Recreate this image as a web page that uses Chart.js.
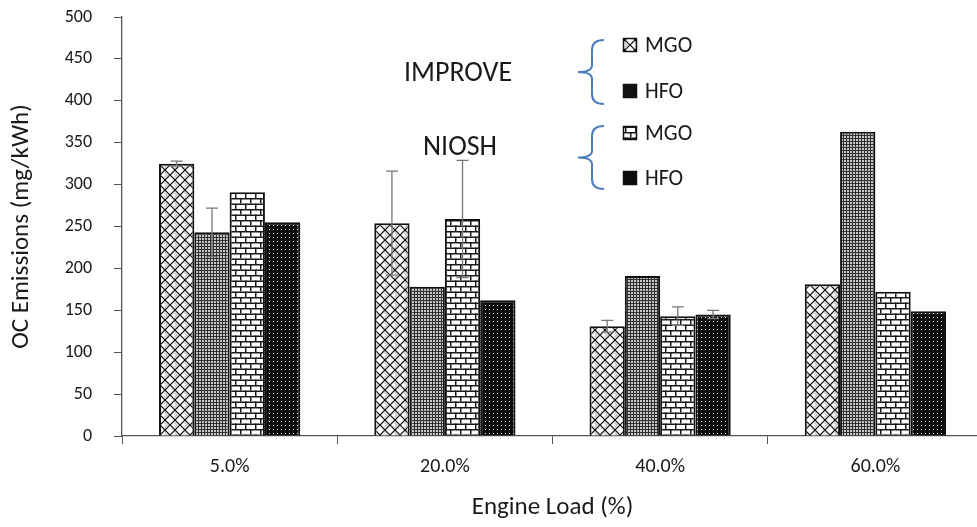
<!DOCTYPE html>
<html>
<head>
<meta charset="utf-8">
<script src="https://cdn.jsdelivr.net/npm/chart.js@4"></script>
<style>
  html, body { margin: 0; padding: 0; background: #fff; overflow: hidden; }
  #wrap { width: 990px; height: 527px; }
</style>
</head>
<body>
<div id="wrap"><canvas id="c" width="990" height="527"></canvas></div>
<script>
// Engine load categories
const categories = ['5.0%', '20.0%', '40.0%', '60.0%'];

// OC emissions (mg/kWh), IMPROVE method
const improveMGO = [325, 254, 131, 181];
const improveHFO = [243, 178, 191, 363];
// OC emissions (mg/kWh), NIOSH method
const nioshMGO = [291, 259, 143, 172];
const nioshHFO = [255, 162, 145, 149];

// Error bar half-widths (mg/kWh)
const improveMGOErr = [3, 62, 7, 0];
const improveHFOErr = [29, 0, 0, 0];
const nioshMGOErr = [0, 70, 11, 0];
const nioshHFOErr = [0, 0, 5, 0];

const yTicks = [0, 50, 100, 150, 200, 250, 300, 350, 400, 450, 500];

const FONT = "Carlito, Lato, 'Open Sans', sans-serif";

// ---- fill patterns ----
function makeTile(w, h, draw) {
  const cv = document.createElement('canvas');
  cv.width = w; cv.height = h;
  const g = cv.getContext('2d');
  draw(g, w, h);
  return document.getElementById('c').getContext('2d').createPattern(cv, 'repeat');
}

// woven diagonal lattice
const weave = makeTile(10, 10, (g) => {
  g.fillStyle = '#ffffff'; g.fillRect(0, 0, 10, 10);
  g.fillStyle = '#c4c4c4';
  g.beginPath(); g.moveTo(5, 2); g.lineTo(8, 5); g.lineTo(5, 8); g.lineTo(4, 7); g.lineTo(6, 5); g.lineTo(4, 3); g.closePath(); g.fill();
  g.strokeStyle = '#111'; g.lineWidth = 1.2;
  g.beginPath();
  g.moveTo(0, 5); g.lineTo(5, 0); g.lineTo(10, 5);
  g.moveTo(0, 5); g.lineTo(5, 10); g.lineTo(10, 5);
  g.stroke();
});

// fine grey check
const fineCheck = makeTile(3, 3, (g) => {
  g.fillStyle = '#c6c6c6'; g.fillRect(0, 0, 3, 3);
  g.fillStyle = '#303030'; g.fillRect(0, 0, 3, 1); g.fillRect(0, 0, 1, 3);
});

// horizontal bricks
const bricks = makeTile(10, 11, (g) => {
  g.fillStyle = '#ffffff'; g.fillRect(0, 0, 10, 11);
  g.fillStyle = '#1a1a1a';
  g.fillRect(0, 0, 10, 1.5);
  g.fillRect(0, 5.5, 10, 1.5);
  g.fillRect(0, 0, 1.5, 5.5);
  g.fillRect(5, 5.5, 1.5, 5.5);
});

// black with small light dots
const dots = makeTile(4, 4, (g) => {
  g.fillStyle = '#0c0c0c'; g.fillRect(0, 0, 4, 4);
  g.fillStyle = '#e8e8e8'; g.fillRect(1, 1, 1, 1);
});

const errors = [improveMGOErr, improveHFOErr, nioshMGOErr, nioshHFOErr];

// draws the grey error whiskers over the bars
const errorBars = {
  id: 'errorBars',
  afterDatasetsDraw(chart) {
    const ctx = chart.ctx;
    const y = chart.scales.y;
    ctx.save();
    ctx.strokeStyle = '#777';
    ctx.lineWidth = 1.3;
    chart.data.datasets.forEach((ds, i) => {
      const meta = chart.getDatasetMeta(i);
      meta.data.forEach((bar, j) => {
        const e = errors[i][j];
        if (!e) return;
        const v = ds.data[j];
        const top = y.getPixelForValue(v + e);
        const bot = y.getPixelForValue(v - e);
        const half = 6;
        ctx.beginPath();
        ctx.moveTo(bar.x, top); ctx.lineTo(bar.x, bot);
        ctx.moveTo(bar.x - half, top); ctx.lineTo(bar.x + half, top);
        ctx.moveTo(bar.x - half, bot); ctx.lineTo(bar.x + half, bot);
        ctx.stroke();
      });
    });
    ctx.restore();
  }
};

// method labels, braces and swatches
const methodLegend = {
  id: 'methodLegend',
  afterDraw(chart) {
    const ctx = chart.ctx;
    ctx.save();
    ctx.fillStyle = '#1a1a1a';
    ctx.textAlign = 'center';
    ctx.textBaseline = 'middle';
    ctx.font = '28px ' + FONT;
    ctx.fillText('IMPROVE', 458, 74);
    ctx.fillText('NIOSH', 460, 148);

    // curly braces
    ctx.strokeStyle = '#4a7ebb';
    ctx.lineWidth = 2;
    function brace(top, bottom) {
      const mid = (top + bottom) / 2;
      const xr = 604, xm = 592, xl = 578;
      ctx.beginPath();
      ctx.moveTo(xr, top);
      ctx.quadraticCurveTo(xm, top, xm, top + 10);
      ctx.lineTo(xm, mid - 7);
      ctx.quadraticCurveTo(xm, mid, xl, mid);
      ctx.quadraticCurveTo(xm, mid, xm, mid + 7);
      ctx.lineTo(xm, bottom - 10);
      ctx.quadraticCurveTo(xm, bottom, xr, bottom);
      ctx.stroke();
    }
    brace(40, 104);
    brace(126, 189);

    // swatches + names
    const items = [
      { y: 45, fill: weave, name: 'MGO' },
      { y: 91, fill: '#111', name: 'HFO' },
      { y: 133, fill: bricks, name: 'MGO' },
      { y: 178, fill: '#0c0c0c', name: 'HFO' }
    ];
    ctx.textAlign = 'left';
    ctx.font = '22px ' + FONT;
    items.forEach(it => {
      ctx.fillStyle = it.fill;
      ctx.fillRect(623, it.y - 7, 14, 14);
      ctx.strokeStyle = '#111';
      ctx.lineWidth = 1.5;
      ctx.strokeRect(623.5, it.y - 6.5, 13, 13);
      ctx.fillStyle = '#1a1a1a';
      ctx.fillText(it.name, 645, it.y + 1);
    });
    ctx.restore();
  }
};

const common = { borderColor: '#111', borderWidth: 2, borderSkipped: 'bottom' };

new Chart(document.getElementById('c'), {
  type: 'bar',
  data: {
    labels: categories,
    datasets: [
      Object.assign({ label: 'IMPROVE MGO', data: improveMGO, backgroundColor: weave }, common),
      Object.assign({ label: 'IMPROVE HFO', data: improveHFO, backgroundColor: fineCheck }, common),
      Object.assign({ label: 'NIOSH MGO', data: nioshMGO, backgroundColor: bricks }, common),
      Object.assign({ label: 'NIOSH HFO', data: nioshHFO, backgroundColor: dots }, common)
    ]
  },
  options: {
    responsive: false,
    animation: false,
    devicePixelRatio: 1,
    layout: { padding: { top: 17, right: 7, left: 0, bottom: 0 } },
    datasets: { bar: { categoryPercentage: 0.656, barPercentage: 1 } },
    plugins: { legend: { display: false }, tooltip: { enabled: false } },
    scales: {
      x: {
        grid: { display: true, drawOnChartArea: false, drawTicks: true, tickLength: 8, color: '#555', offset: true },
        border: { display: true, color: '#555', width: 1.3 },
        ticks: { color: '#1a1a1a', font: { family: FONT, size: 20 }, padding: 11 },
        title: { display: true, text: 'Engine Load (%)', color: '#1a1a1a', font: { family: FONT, size: 25 }, padding: { top: 0, bottom: 4 } },
        afterFit(s) { s.height = 91; }
      },
      y: {
        min: 0, max: 500,
        afterBuildTicks(s) { s.ticks = yTicks.map(v => ({ value: v })); },
        // long tick slot so labels sit well clear of the axis; only the inner 8px is stroked
        grid: { display: true, drawOnChartArea: false, drawTicks: true, tickLength: 30, color: '#555', tickBorderDash: [0, 22, 8, 200] },
        border: { display: true, color: '#555', width: 1.3 },
        ticks: { color: '#1a1a1a', font: { family: FONT, size: 18 }, padding: 0 },
        title: { display: true, text: 'OC Emissions (mg/kWh)', color: '#1a1a1a', font: { family: FONT, size: 25 }, padding: { top: 7, bottom: 0 } },
        afterFit(s) { s.width = 122; }
      }
    }
  },
  plugins: [errorBars, methodLegend]
});
</script>
</body>
</html>
